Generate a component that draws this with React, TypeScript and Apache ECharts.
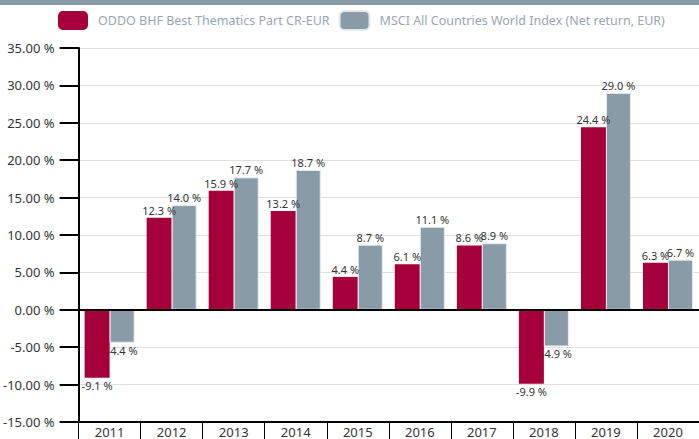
import React, { useEffect, useRef } from "react";
import * as echarts from "echarts";

const years = ["2011", "2012", "2013", "2014", "2015", "2016", "2017", "2018", "2019", "2020"];
const fundName = "ODDO BHF Best Thematics Part CR-EUR";
const indexName = "MSCI All Countries World Index (Net return, EUR)";
const fundValues = [-9.1, 12.3, 15.9, 13.2, 4.4, 6.1, 8.6, -9.9, 24.4, 6.3];
const indexValues = [-4.4, 14.0, 17.7, 18.7, 8.7, 11.1, 8.9, -4.9, 29.0, 6.7];

const RED = "#A6003B";
const GREY = "#8A9BA8";
const FONT = "'Noto Sans', 'DejaVu Sans', sans-serif";

function toData(vals: number[]) {
  return vals.map((v) => ({
    value: v,
    label: { position: v >= 0 ? "top" : "bottom" },
  }));
}

export default function App() {
  const ref = useRef<HTMLDivElement>(null);
  useEffect(() => {
    if (!ref.current) return;
    const chart = echarts.init(ref.current, undefined, { renderer: "svg" });
    const label = {
      show: true,
      distance: 2,
      fontSize: 11,
      fontFamily: FONT,
      color: "#333",
      formatter: (p: any) => `${Number(p.value).toFixed(1)} %`,
    };
    chart.setOption({
      animation: false,
      graphic: [
        { type: "rect", shape: { x: 0, y: 0, width: 699, height: 5 }, style: { fill: GREY }, silent: true },
      ],
      legend: {
        left: 58,
        top: 10,
        padding: 0,
        itemWidth: 30,
        itemHeight: 19,
        itemGap: 9,
        icon: "roundRect",
        textStyle: { color: "#98a6b1", fontSize: 12.5, fontFamily: FONT, padding: [0, 0, 0, 5] },
        data: [fundName, indexName],
      },
      grid: { left: 77, right: -8, top: 48, bottom: 17, containLabel: false },
      xAxis: {
        type: "category",
        data: years,
        axisLine: { onZero: false, lineStyle: { color: "#000", width: 2 } },
        axisTick: { show: true, length: 17, inside: false, lineStyle: { color: "#000", width: 1 } },
        axisLabel: { margin: 3, fontSize: 13, fontFamily: FONT, color: "#333" },
        splitLine: { show: false },
      },
      yAxis: {
        type: "value",
        min: -15,
        max: 35,
        interval: 5,
        axisLine: { show: true, lineStyle: { color: "#000", width: 2 } },
        axisTick: { show: true, length: 19, lineStyle: { color: "#000", width: 2 } },
        axisLabel: {
          margin: 24,
          fontSize: 13,
          fontFamily: FONT,
          color: "#333",
          formatter: (v: number) => `${v.toFixed(2)} %`,
        },
        splitLine: { show: true, lineStyle: { color: "#e0e0e0", width: 1 } },
      },
      series: [
        {
          name: fundName,
          type: "bar",
          data: toData(fundValues),
          barWidth: 25,
          barGap: "0%",
          itemStyle: { color: RED },
          label,
          markLine: {
            silent: true,
            symbol: "none",
            label: { show: false },
            lineStyle: { color: "#000", width: 2, type: "solid" },
            data: [{ yAxis: 0 }],
          },
        },
        {
          name: indexName,
          type: "bar",
          data: toData(indexValues),
          barWidth: 25,
          barGap: "0%",
          itemStyle: { color: GREY, borderColor: "#e6eaee", borderWidth: 1 },
          label,
        },
      ],
    });
    return () => chart.dispose();
  }, []);
  return (
    <div
      ref={ref}
      style={{ position: "fixed", left: 0, top: 0, width: 699, height: 439, background: "#fff" }}
    />
  );
}
